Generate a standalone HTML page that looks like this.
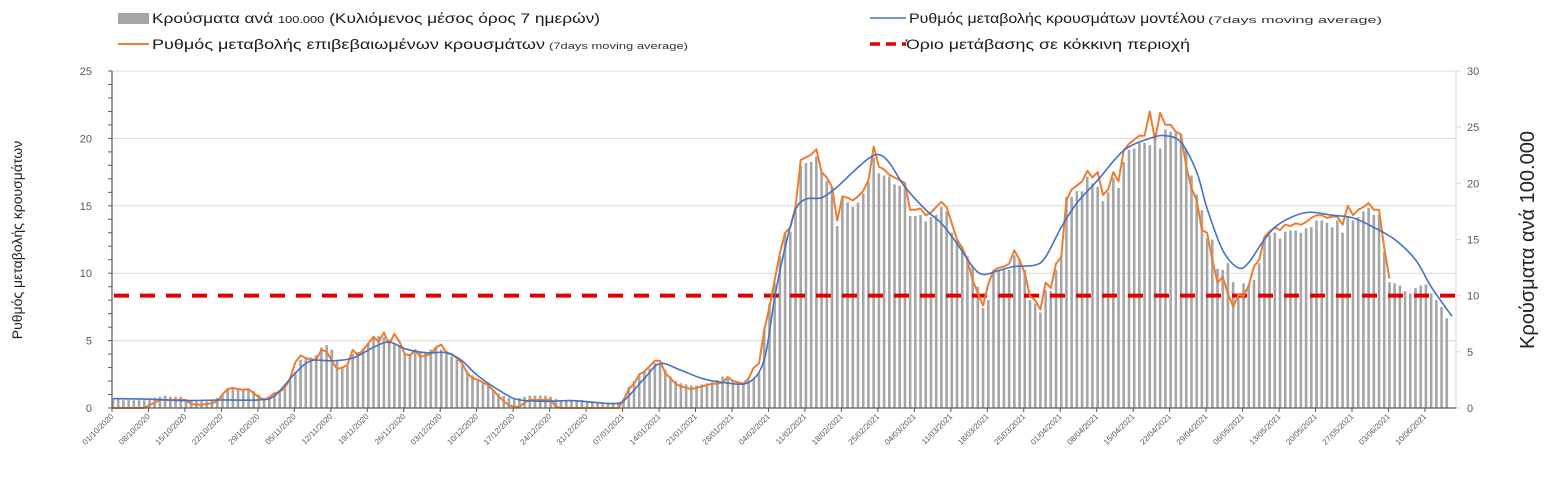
<!DOCTYPE html>
<html><head><meta charset="utf-8">
<style>
html,body{margin:0;padding:0;background:#fff;}
svg{display:block;font-family:"Liberation Sans","DejaVu Sans",sans-serif;}
</style></head>
<body>
<svg id="chart" width="1554" height="489" viewBox="0 0 1554 489">
  <g id="legend">
    <g>
      <rect x="118" y="13" width="31" height="11" fill="#a6a6a6"/>
      <text x="152" y="23" font-size="13.5" fill="#1a1a1a" textLength="448" lengthAdjust="spacingAndGlyphs">Κρούσματα ανά <tspan font-size="10">100.000</tspan> (Κυλιόμενος μέσος όρος 7 ημερών)</text>
    </g>
    <g>
      <line x1="118" y1="44" x2="149" y2="44" stroke="#ed7d31" stroke-width="2"/>
      <text x="152" y="49" font-size="13.5" fill="#1a1a1a" textLength="393" lengthAdjust="spacingAndGlyphs">Ρυθμός μεταβολής επιβεβαιωμένων κρουσμάτων</text>
      <text x="549" y="49" font-size="9.5" fill="#333" textLength="139" lengthAdjust="spacingAndGlyphs">(7days moving average)</text>
    </g>
    <g>
      <line x1="870" y1="18" x2="906" y2="18" stroke="#4472c4" stroke-width="1.5"/>
      <text x="909" y="23" font-size="13.5" fill="#1a1a1a" textLength="296" lengthAdjust="spacingAndGlyphs">Ρυθμός μεταβολής κρουσμάτων μοντέλου</text>
      <text x="1208" y="23" font-size="9.5" fill="#333" textLength="174" lengthAdjust="spacingAndGlyphs">(7days moving average)</text>
    </g>
    <g>
      <line x1="870" y1="44" x2="906" y2="44" stroke="#e00000" stroke-width="3.5" stroke-dasharray="10,6"/>
      <text x="906" y="49" font-size="13.5" fill="#1a1a1a" textLength="284" lengthAdjust="spacingAndGlyphs">Όριο μετάβασης σε κόκκινη περιοχή</text>
    </g>
  </g>
  <text transform="translate(22,240) rotate(-90)" text-anchor="middle" font-size="14" fill="#222">Ρυθμός μεταβολής κρουσμάτων</text>
  <text transform="translate(1534,240) rotate(-90)" text-anchor="middle" font-size="20" fill="#222">Κρούσματα ανά 100.000</text>
  <g id="grid"></g>
  <g id="bars"></g>
  <g id="lines"></g>
  <g id="axes"></g>
</svg>
<script>
const tickLabels = ["01/10/2020","08/10/2020","15/10/2020","22/10/2020","29/10/2020","05/11/2020","12/11/2020","19/11/2020","26/11/2020","03/12/2020","10/12/2020","17/12/2020","24/12/2020","31/12/2020","07/01/2021","14/01/2021","21/01/2021","28/01/2021","04/02/2021","11/02/2021","18/02/2021","25/02/2021","04/03/2021","11/03/2021","18/03/2021","25/03/2021","01/04/2021","08/04/2021","15/04/2021","22/04/2021","29/04/2021","06/05/2021","13/05/2021","20/05/2021","27/05/2021","03/06/2021","10/06/2021"];
const leftTicks = [0,5,10,15,20,25];
const rightTicks = [0,5,10,15,20,25,30];
const threshold = 10; // right-axis units
const barValues = [
0.8,0.8,0.7,0.7,0.7,0.7,0.7,
0.8,0.9,1.0,1.1,1.0,1.0,1.0,
0.8,0.6,0.6,0.6,0.6,0.7,0.9,
1.2,1.7,1.8,1.7,1.7,1.7,1.5,
1.2,0.9,1.0,1.3,1.6,1.7,2.5,
3.2,4.3,4.4,4.5,4.7,5.4,5.6,
5.2,4.2,3.6,3.8,4.8,5.0,5.3,
5.8,6.2,6.4,6.3,6.1,5.8,5.6,
4.8,4.8,5.0,5.0,5.0,5.2,5.4,
5.2,5.1,4.6,4.3,3.8,3.2,2.9,
2.5,2.3,2.0,1.6,1.3,1.1,0.9,
0.8,0.9,1.0,1.1,1.1,1.1,1.1,
1.0,0.8,0.7,0.7,0.7,0.7,0.7,
0.6,0.6,0.5,0.5,0.5,0.5,0.5,
0.8,1.9,2.4,2.9,3.3,3.5,4.0,
4.0,3.4,2.8,2.4,2.2,2.1,2.0,
2.0,2.1,2.2,2.3,2.5,2.8,2.6,
2.4,2.3,2.2,2.5,2.6,3.1,7.0,
9.3,11.1,13.5,15.6,15.7,17.6,21.6,
21.8,21.9,22.4,21.0,20.2,19.7,16.2,
18.7,18.3,17.9,18.3,19.1,20.1,22.3,
20.9,20.7,20.6,19.9,19.8,19.6,17.1,
17.1,17.2,16.6,17.0,17.2,17.9,17.5,
15.6,15.0,14.1,13.5,12.6,10.8,8.9,
9.6,12.0,12.2,12.3,12.3,13.6,13.2,
12.3,9.6,9.3,8.5,10.5,10.4,12.3,
13.5,18.8,18.8,19.3,19.3,20.6,20.0,
19.7,18.4,19.2,20.5,19.6,21.9,23.0,
23.1,23.6,23.6,23.4,24.5,23.1,24.8,
24.6,24.5,24.3,23.0,20.7,19.0,17.6,
15.1,15.0,12.4,12.3,12.9,11.2,10.2,
11.1,11.0,11.4,12.9,15.1,15.4,15.6,
15.1,15.7,15.8,15.8,15.6,16.0,16.1,
16.7,16.7,16.5,16.1,16.7,15.6,17.0,
16.7,17.0,17.5,17.8,17.2,17.2,13.9,
11.2,11.1,10.9,10.4,10.2,10.7,10.9,
11.0,10.2,9.6,9.0,8.0];
const orangeValues = [
0,0,0,0,0,0,0,
0.2,0.4,0.6,0.6,0.6,0.6,0.6,
0.6,0.3,0.25,0.25,0.3,0.35,0.5,
1.0,1.4,1.5,1.4,1.35,1.4,1.1,
0.8,0.6,0.8,1.1,1.2,1.5,2.2,
3.4,3.9,3.7,3.6,3.6,4.3,4.2,
3.5,2.9,3.0,3.2,4.3,3.9,4.3,
4.8,5.3,4.9,5.6,4.7,5.5,4.9,
4.0,3.9,4.3,3.8,3.9,4.0,4.5,
4.7,4.1,4.0,3.7,3.3,2.6,2.2,
2.1,1.9,1.7,1.3,0.9,0.5,0.2,
0.1,0.1,0.4,0.6,0.6,0.6,0.6,
0.6,0.1,0,0,0,0,0,
0,0,0,0,0,0,0,
0.6,1.4,1.8,2.5,2.7,3.1,3.5,
3.5,2.6,2.2,1.8,1.6,1.5,1.4,
1.5,1.6,1.7,1.8,1.8,1.9,2.3,
2.0,1.9,1.8,2.2,3.0,3.3,5.8,
7.5,9.5,11.5,13.0,13.4,14.9,18.4,
18.6,18.8,19.2,17.5,17.1,16.4,13.9,
15.7,15.6,15.4,15.7,16.1,16.9,19.4,
17.9,17.7,17.3,17.1,16.9,16.7,14.7,
14.7,14.8,14.3,14.5,14.9,15.3,14.9,
13.7,12.5,11.9,11.0,9.5,8.5,7.6,
9.2,10.2,10.4,10.5,10.7,11.7,11.0,
10.0,8.3,8.0,7.3,9.3,8.9,10.7,
11.2,15.4,16.2,16.5,16.8,17.6,17.1,
17.5,15.8,16.2,17.5,16.8,19.1,19.6,
19.9,20.2,20.2,22.0,19.9,21.9,21.0,
21.0,20.5,20.3,17.9,16.3,15.4,13.2,
13.0,11.0,9.3,9.7,8.5,7.5,8.4,
8.3,9.1,10.5,11.0,12.7,13.1,13.4,
13.2,13.6,13.5,13.7,13.6,13.8,14.1,
14.3,14.3,14.1,14.2,14.2,13.6,15.0,
14.3,14.7,14.9,15.2,14.7,14.7,11.9,
9.6];
const blueDays = [0,7,14,21,28,31,35,38,42,46,50,53,56,60,64,67,70,75,78,83,88,93,97,99,102,105,109,113,117,122,125,127,129,131,133,136,139,142,145,147,149,152,156,159,162,165,167,170,173,177,179,182,185,189,194,199,202,205,208,210,213,216,218,221,224,229,234,238,242,246,250,253,257];
const blueValues = [0.7,0.65,0.55,0.6,0.6,0.9,2.6,3.5,3.5,3.7,4.5,4.9,4.4,4.1,4.1,3.5,2.4,1.1,0.6,0.5,0.55,0.4,0.35,0.9,2.2,3.3,2.8,2.2,1.9,1.9,3.6,8.2,11.9,14.7,15.5,15.6,16.4,17.5,18.5,18.8,18.2,16.4,14.7,13.7,12.2,10.5,9.9,10.2,10.5,10.6,11.2,13.4,15.2,16.9,19.1,20.0,20.2,19.7,17.5,14.8,11.7,10.4,10.8,12.5,13.7,14.5,14.3,14.1,13.4,12.5,11.0,9.0,6.8];

const NS = "http://www.w3.org/2000/svg";
const X0 = 112, X1 = 1456, Y0 = 408, YTOP = 71, DAY = 5.21;
function xDay(d){ return X0 + 1 + DAY * d; }
function yLeft(v){ return Y0 - (Y0 - YTOP) * v / 25; }
function yRight(v){ return Y0 - (Y0 - YTOP) * v / 30; }
function mk(tag, attrs, parent){ const e = document.createElementNS(NS, tag); for (const k in attrs) e.setAttribute(k, attrs[k]); parent.appendChild(e); return e; }

const grid = document.getElementById('grid');
const bars = document.getElementById('bars');
const lines = document.getElementById('lines');
const axes = document.getElementById('axes');

// gridlines + left labels
leftTicks.forEach(v => {
  if (v > 0) {
    const g = mk('line', {x1: X0, x2: X1, y1: yLeft(v), y2: yLeft(v), stroke: '#d9d9d9', 'stroke-width': 1}, grid);
    
    
  }
  const t = mk('text', {x: 92, y: yLeft(v) + 4, 'text-anchor': 'end', 'font-size': 11, fill: '#595959'}, axes);
  t.textContent = v;
  
  
});
// left minor ticks
for (let v = 0; v <= 25; v++) {
  const tk = mk('line', {x1: X0 - 4, x2: X0, y1: yLeft(v), y2: yLeft(v), stroke: '#595959', 'stroke-width': 1}, axes);
  
  
}
// right labels
rightTicks.forEach(v => {
  const tk = mk('line', {x1: X1, x2: X1 + 5, y1: yRight(v), y2: yRight(v), stroke: '#d9d9d9', 'stroke-width': 1}, axes);
  
  
  const t = mk('text', {x: 1467, y: yRight(v) + 4, 'font-size': 11, fill: '#595959'}, axes);
  t.textContent = v;
  
  
});
const ra = mk('line', {x1: X1, x2: X1, y1: YTOP, y2: Y0, stroke: '#d9d9d9', 'stroke-width': 1}, axes);



// bars
barValues.forEach((v, i) => {
  const y = yRight(v);
  const b = mk('rect', {x: xDay(i) - 1.3, y: y, width: 2.6, height: Y0 - y, fill: '#a6a6a6'}, bars);
  
  
});

// red threshold
const red = mk('line', {x1: X0 + 2, x2: X1, y1: yRight(threshold), y2: yRight(threshold), stroke: '#e00000', 'stroke-width': 4, 'stroke-dasharray': '15,11'}, lines);



// orange line
const op = orangeValues.map((v, i) => (i ? 'L' : 'M') + xDay(i).toFixed(1) + ',' + yLeft(v).toFixed(1)).join(' ');
const orange = mk('path', {d: op, fill: 'none', stroke: '#ed7d31', 'stroke-width': 2, 'stroke-linejoin': 'round'}, lines);



// blue smooth line (Catmull-Rom)
const pts = blueDays.map((d, i) => [xDay(d), yLeft(blueValues[i])]);
let bp = 'M' + pts[0][0] + ',' + pts[0][1];
for (let i = 0; i < pts.length - 1; i++) {
  const p0 = pts[Math.max(0, i - 1)], p1 = pts[i], p2 = pts[i + 1], p3 = pts[Math.min(pts.length - 1, i + 2)];
  const c1x = p1[0] + (p2[0] - p0[0]) / 6, c1y = p1[1] + (p2[1] - p0[1]) / 6;
  const c2x = p2[0] - (p3[0] - p1[0]) / 6, c2y = p2[1] - (p3[1] - p1[1]) / 6;
  bp += ` C${c1x.toFixed(1)},${c1y.toFixed(1)} ${c2x.toFixed(1)},${c2y.toFixed(1)} ${p2[0].toFixed(1)},${p2[1].toFixed(1)}`;
}
const blue = mk('path', {d: bp, fill: 'none', stroke: '#4472c4', 'stroke-width': 1.6}, lines);



// axes lines
const la = mk('line', {x1: X0, x2: X0, y1: YTOP, y2: Y0, stroke: '#595959', 'stroke-width': 1.2}, axes);


const xa = mk('line', {x1: X0, x2: X1, y1: Y0, y2: Y0, stroke: '#595959', 'stroke-width': 1.2}, axes);



// x ticks and labels
tickLabels.forEach((lab, i) => {
  const x = X0 + DAY * 7 * i;
  const tk = mk('line', {x1: x, x2: x, y1: Y0, y2: Y0 + 4, stroke: '#595959', 'stroke-width': 1}, axes);
  
  
  const t = mk('text', {transform: `translate(${x + 2},${Y0 + 9}) rotate(-45)`, 'text-anchor': 'end', 'font-size': 8, fill: '#595959'}, axes);
  t.textContent = lab;
  
  
});
</script>
</body></html>
